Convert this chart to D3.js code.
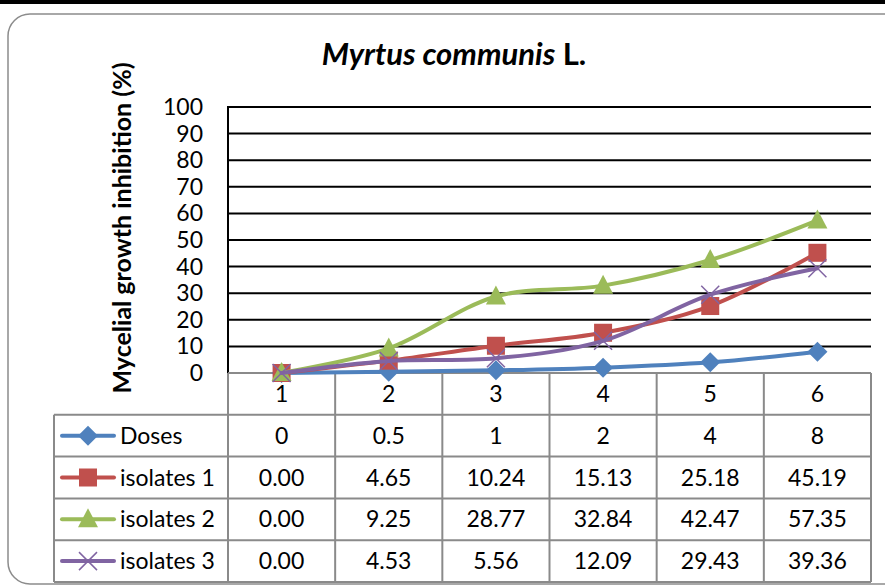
<!DOCTYPE html>
<html>
<head>
<meta charset="utf-8">
<script src="https://cdn.jsdelivr.net/npm/d3@7"></script>
<style>
  body { margin: 0; background: #fff; }
  text { font-family: Lato, "Open Sans", sans-serif; }
</style>
</head>
<body>
<div id="chart"></div>
<script>
// data
var categories = ["1", "2", "3", "4", "5", "6"];
var seriesNames = ["Doses", "isolates 1", "isolates 2", "isolates 3"];
var doses = [0, 0.5, 1, 2, 4, 8];
var isolates1 = [0.00, 4.65, 10.24, 15.13, 25.18, 45.19];
var isolates2 = [0.00, 9.25, 28.77, 32.84, 42.47, 57.35];
var isolates3 = [0.00, 4.53, 5.56, 12.09, 29.43, 39.36];
var tableText = [
	["0", "0.5", "1", "2", "4", "8"],
	["0.00", "4.65", "10.24", "15.13", "25.18", "45.19"],
	["0.00", "9.25", "28.77", "32.84", "42.47", "57.35"],
	["0.00", "4.53", "5.56", "12.09", "29.43", "39.36"]
];
var yTicks = [0, 10, 20, 30, 40, 50, 60, 70, 80, 90, 100];

function init(){

	var allSeries = [doses, isolates1, isolates2, isolates3];
	var colors = ["#4F81BD", "#C0504D", "#9BBB59", "#8064A2"];
	var markers = ["diamond", "square", "triangle", "x"];

	var w = 885, h = 587;
	var plotLeft = 228, plotRight = 871, plotTop = 107, plotBottom = 373;
	var rowH = 41.8;
	var legendLeft = 54;
	var fs = 23;

	var svg = d3.select("#chart").append("svg")
		.attr("width", w)
		.attr("height", h);

	// black strip on top and rounded chart border
	svg.append("rect").attr("x", 0).attr("y", 0).attr("width", w).attr("height", 4).attr("fill", "#000");
	svg.append("rect")
		.attr("x", 8).attr("y", 14).attr("width", 900).attr("height", 570)
		.attr("rx", 22).attr("ry", 22)
		.attr("fill", "#fff").attr("stroke", "#8c8c8c").attr("stroke-width", 1.5);

	var xScale = d3.scaleBand()
		.domain(categories)
		.range([plotLeft, plotRight]);

	var yScale = d3.scaleLinear()
		.domain([0, 100])
		.range([plotBottom, plotTop]);

	// gridlines
	svg.selectAll("line.grid")
		.data(yTicks.slice(1))
		.enter().append("line")
		.attr("class", "grid")
		.attr("x1", plotLeft).attr("x2", plotRight)
		.attr("y1", function(d){ return yScale(d); })
		.attr("y2", function(d){ return yScale(d); })
		.attr("stroke", "#000").attr("stroke-width", 2);

	// left axis line
	svg.append("line")
		.attr("x1", plotLeft).attr("x2", plotLeft)
		.attr("y1", plotTop - 1).attr("y2", plotBottom)
		.attr("stroke", "#000").attr("stroke-width", 2);

	// y tick labels
	svg.selectAll("text.ytick")
		.data(yTicks)
		.enter().append("text")
		.attr("class", "ytick")
		.attr("x", 203)
		.attr("y", function(d){ return yScale(d) + 8; })
		.attr("text-anchor", "end")
		.attr("font-size", fs)
		.text(function(d){ return d; });

	// y title
	svg.append("text")
		.attr("transform", "translate(131,228) rotate(-90)")
		.attr("text-anchor", "middle")
		.attr("font-size", 25)
		.attr("font-weight", "bold")
		.text("Mycelial growth inhibition (%)");

	// title
	var title = svg.append("text")
		.attr("x", 454).attr("y", 65)
		.attr("text-anchor", "middle")
		.attr("font-size", 31)
		.attr("font-weight", "bold");
	title.append("tspan").attr("font-style", "italic").text("Myrtus communis");
	title.append("tspan").text(" L.");

	// data table grid
	var gridColor = "#8a8a8a";
	var tableBottom = plotBottom + rowH * 5;
	svg.selectAll("line.vcol")
		.data(d3.range(categories.length + 1))
		.enter().append("line")
		.attr("class", "vcol")
		.attr("x1", function(i){ return plotLeft + xScale.step() * i; })
		.attr("x2", function(i){ return plotLeft + xScale.step() * i; })
		.attr("y1", plotBottom).attr("y2", tableBottom)
		.attr("stroke", gridColor).attr("stroke-width", 2);
	svg.append("line")
		.attr("x1", legendLeft).attr("x2", legendLeft)
		.attr("y1", plotBottom + rowH).attr("y2", tableBottom)
		.attr("stroke", gridColor).attr("stroke-width", 2);
	svg.append("line")
		.attr("x1", plotLeft).attr("x2", plotRight)
		.attr("y1", plotBottom).attr("y2", plotBottom)
		.attr("stroke", gridColor).attr("stroke-width", 2);
	svg.selectAll("line.hrow")
		.data(d3.range(1, 6))
		.enter().append("line")
		.attr("class", "hrow")
		.attr("x1", legendLeft).attr("x2", plotRight)
		.attr("y1", function(i){ return plotBottom + rowH * i; })
		.attr("y2", function(i){ return plotBottom + rowH * i; })
		.attr("stroke", gridColor).attr("stroke-width", 2);

	// category labels
	svg.selectAll("text.cat")
		.data(categories)
		.enter().append("text")
		.attr("class", "cat")
		.attr("x", function(d){ return xScale(d) + xScale.bandwidth() / 2; })
		.attr("y", plotBottom + rowH / 2 + 8)
		.attr("text-anchor", "middle")
		.attr("font-size", fs)
		.text(function(d){ return d; });

	// table values
	tableText.forEach(function(row, r){
		svg.selectAll("text.val" + r)
			.data(row)
			.enter().append("text")
			.attr("class", "val" + r)
			.attr("x", function(d, i){ return xScale(categories[i]) + xScale.bandwidth() / 2; })
			.attr("y", plotBottom + rowH * (r + 1) + rowH / 2 + 8)
			.attr("text-anchor", "middle")
			.attr("font-size", fs)
			.text(function(d){ return d; });
	});

	function drawMarker(g, type, color, cx, cy){
		if (type === "diamond") {
			g.append("path")
				.attr("d", "M" + cx + "," + (cy - 10) + "L" + (cx + 10) + "," + cy + "L" + cx + "," + (cy + 10) + "L" + (cx - 10) + "," + cy + "Z")
				.attr("fill", color);
		} else if (type === "square") {
			g.append("rect")
				.attr("x", cx - 9).attr("y", cy - 9).attr("width", 18).attr("height", 18)
				.attr("fill", color);
		} else if (type === "triangle") {
			g.append("path")
				.attr("d", "M" + cx + "," + (cy - 11) + "L" + (cx + 10) + "," + (cy + 8) + "L" + (cx - 10) + "," + (cy + 8) + "Z")
				.attr("fill", color);
		} else {
			g.append("path")
				.attr("d", "M" + (cx - 9) + "," + (cy - 9) + "L" + (cx + 9) + "," + (cy + 9) + "M" + (cx + 9) + "," + (cy - 9) + "L" + (cx - 9) + "," + (cy + 9))
				.attr("stroke", color).attr("stroke-width", 1.5).attr("fill", "none");
		}
	}

	// smoothed lines
	var line = d3.line()
		.x(function(d, i){ return xScale(categories[i]) + xScale.bandwidth() / 2; })
		.y(function(d){ return yScale(d); })
		.curve(d3.curveCatmullRom.alpha(0.5));

	allSeries.forEach(function(s, k){
		var g = svg.append("g");
		g.append("path")
			.datum(s)
			.attr("d", line)
			.attr("fill", "none")
			.attr("stroke", colors[k])
			.attr("stroke-width", 4)
			.attr("stroke-linecap", "round");
		s.forEach(function(d, i){
			drawMarker(g, markers[k], colors[k], xScale(categories[i]) + xScale.bandwidth() / 2, yScale(d));
		});
	});

	// legend keys in table
	seriesNames.forEach(function(name, k){
		var cy = plotBottom + rowH * (k + 1) + rowH / 2;
		var g = svg.append("g");
		g.append("line")
			.attr("x1", 62).attr("x2", 114)
			.attr("y1", cy).attr("y2", cy)
			.attr("stroke", colors[k]).attr("stroke-width", 4)
			.attr("stroke-linecap", "round");
		drawMarker(g, markers[k], colors[k], 88, cy);
		g.append("text")
			.attr("x", 120).attr("y", cy + 8)
			.attr("font-size", fs)
			.text(name);
	});
}

window.onload = init;
</script>
</body>
</html>
